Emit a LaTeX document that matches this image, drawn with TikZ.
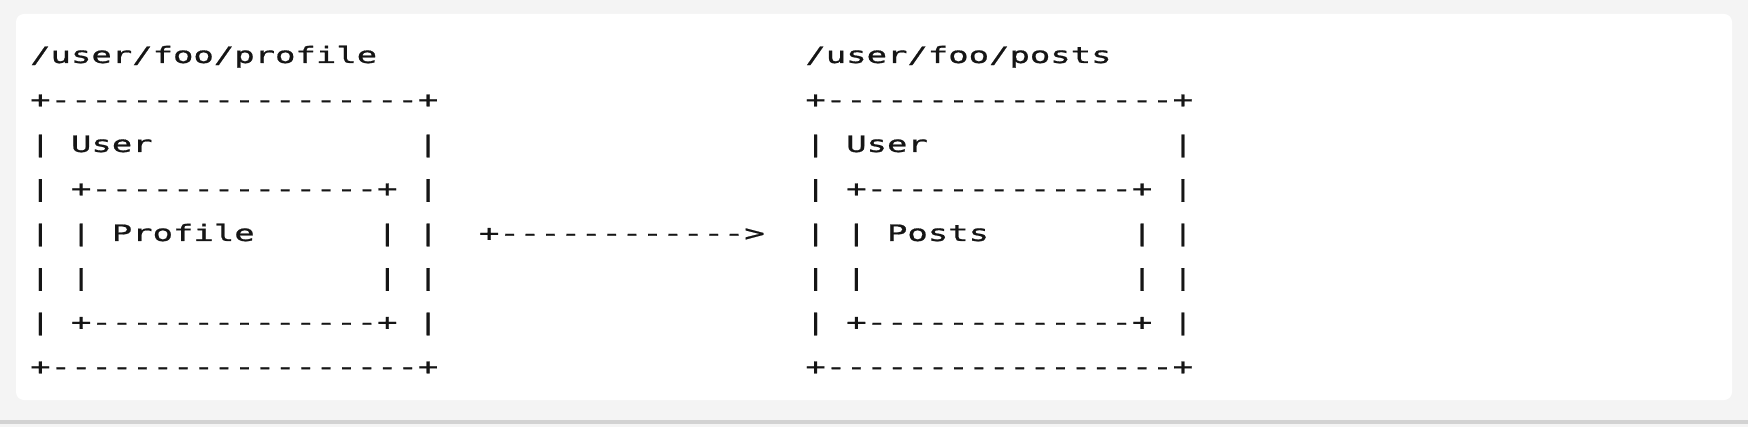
\documentclass[tikz,border=0pt]{standalone}
\usepackage{fontspec}
\newfontfamily\asciifont[FakeStretch=1.5,FakeBold=0.8,Ligatures=TeXOff]{DejaVu Sans Mono}
\definecolor{pagegrey}{HTML}{F4F4F4}
\definecolor{edgegrey}{HTML}{D2D2D2}
\definecolor{ink}{HTML}{151515}

\begin{document}
\begin{tikzpicture}[asciirow/.style={anchor=base west,inner sep=0pt,text=ink,
				font=\asciifont\fontsize{11.3pt}{14pt}\selectfont}]
% page and card
\fill[pagegrey] (0,0) rectangle (874pt,-213.5pt);
\fill[edgegrey] (0,-210pt) rectangle (874pt,-212pt);
\fill[white,rounded corners=4pt] (8pt,-7pt) rectangle (866pt,-200pt);
\useasboundingbox (0,0) rectangle (874pt,-213.5pt);
\begin{scope}[shift={(14.9pt,-31.5pt)},x=10.2pt,y=-22.25pt]
% /user/foo/profile
\node[asciirow] (p0) at (0,0) {/user/foo/profile};
\node[asciirow] (p1) at (0,1) {+------------------+};
\node[asciirow] (p2) at (0,2) {|~User~~~~~~~~~~~~~|};
\node[asciirow] (p3) at (0,3) {|~+--------------+~|};
\node[asciirow] (p4) at (0,4) {|~|~Profile~~~~~~|~|};
\node[asciirow] (p5) at (0,5) {|~|~~~~~~~~~~~~~~|~|};
\node[asciirow] (p6) at (0,6) {|~+--------------+~|};
\node[asciirow] (p7) at (0,7) {+------------------+};
% arrow
\node[asciirow] (arrow) at (22,4) {+------------>};
% /user/foo/posts
\node[asciirow] (s0) at (38,0) {/user/foo/posts};
\node[asciirow] (s1) at (38,1) {+-----------------+};
\node[asciirow] (s2) at (38,2) {|~User~~~~~~~~~~~~|};
\node[asciirow] (s3) at (38,3) {|~+-------------+~|};
\node[asciirow] (s4) at (38,4) {|~|~Posts~~~~~~~|~|};
\node[asciirow] (s5) at (38,5) {|~|~~~~~~~~~~~~~|~|};
\node[asciirow] (s6) at (38,6) {|~+-------------+~|};
\node[asciirow] (s7) at (38,7) {+-----------------+};
\end{scope}
\end{tikzpicture}
\end{document}
